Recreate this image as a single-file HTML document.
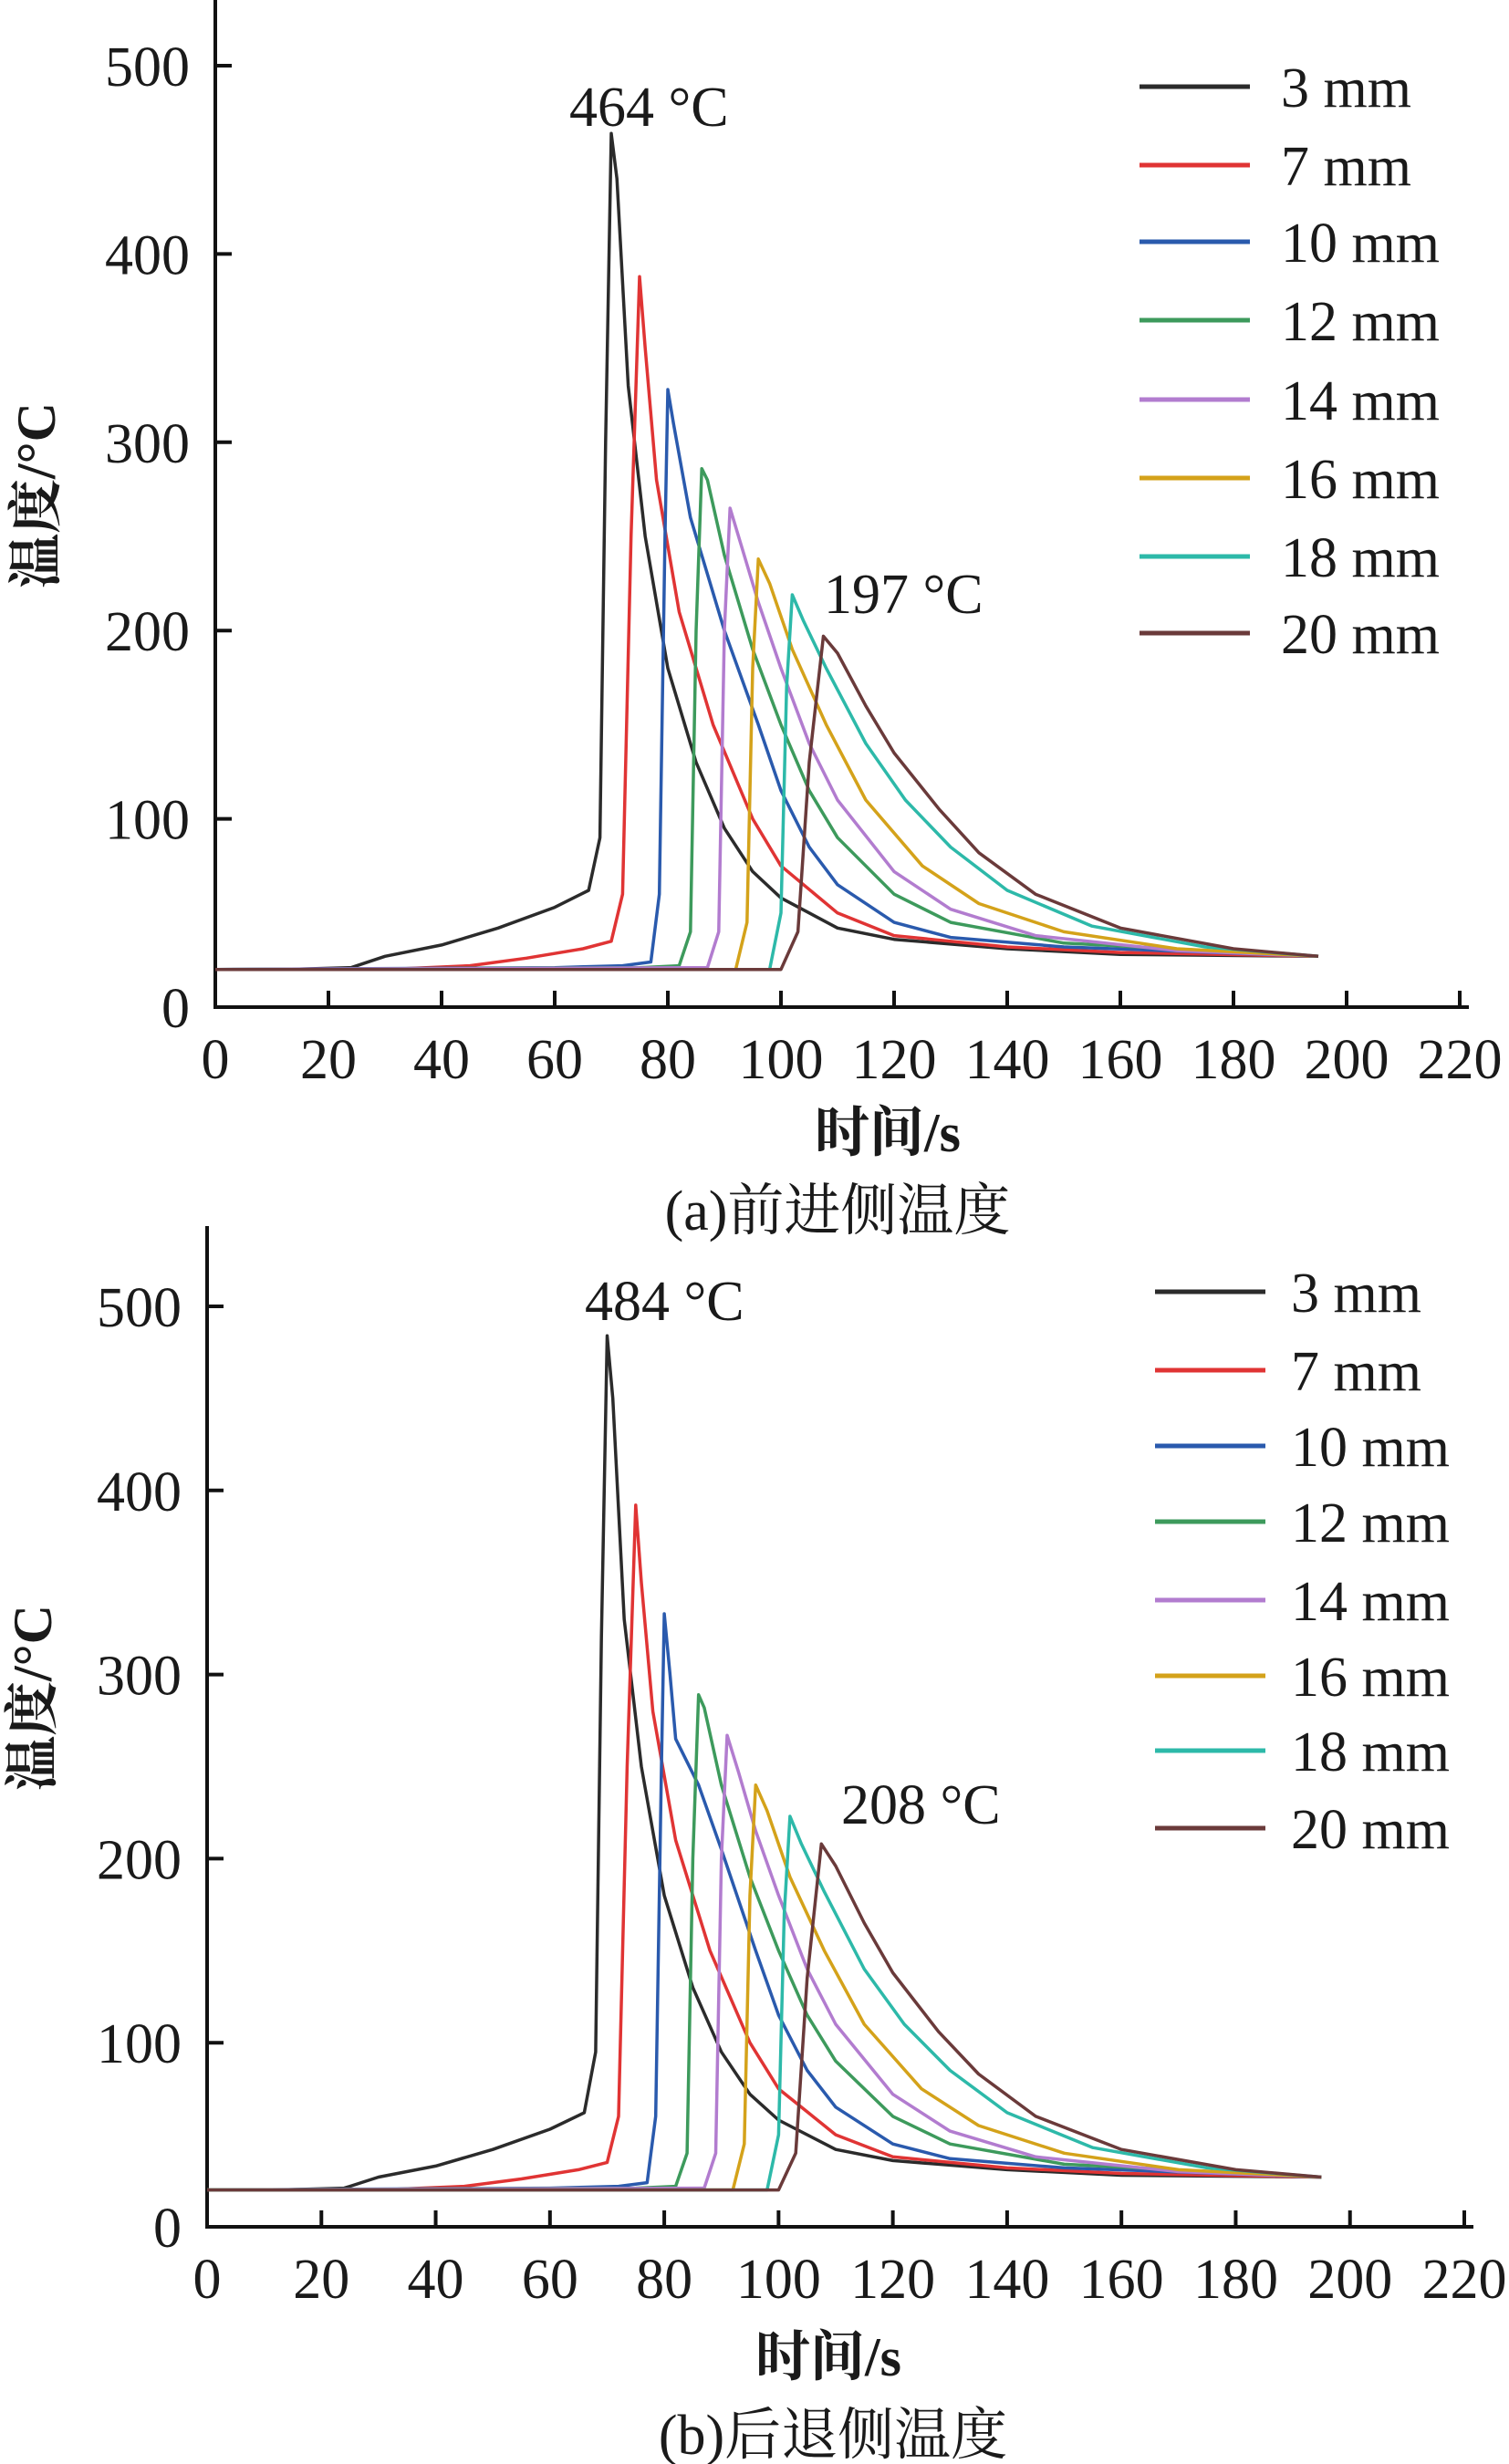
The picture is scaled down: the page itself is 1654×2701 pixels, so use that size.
<!DOCTYPE html>
<html><head><meta charset="utf-8"><style>
html,body{margin:0;padding:0;background:#fff;}
svg{display:block;}
text{font-family:"Liberation Serif","Noto Serif CJK SC",serif;fill:#1a1a1a;}
</style></head>
<body>
<svg id="fig" width="1654" height="2701" viewBox="0 0 1654 2701" xmlns="http://www.w3.org/2000/svg"></svg>
<script>
const xTicks=[0,20,40,60,80,100,120,140,160,180,200,220];
const yTicks=[0,100,200,300,400,500];
const seriesNames=["3 mm","7 mm","10 mm","12 mm","14 mm","16 mm","18 mm","20 mm"];
const seriesColors=["#2b2b2b","#e03434","#2a5aad","#3d9a5c","#b27ccf","#d4a21a","#2db9a9","#6a3a3a"];
const topT3=[[0,20],[12,20],[24,21],[30,27],[40,33],[50,42],[60,53],[66,62],[68,90],[69,300],[70,464],[71,440],[73,330],[76,250],[80,180],[85,130],[90,95],[95,72],[100,58],[110,42],[120,36],[140,31],[160,28],[195,27]];
const topT7=[[0,20],[30,20],[45,22],[55,26],[65,31],[70,35],[72,60],[73.5,250],[75,388],[76,350],[78,280],[82,210],[88,150],[95,100],[100,75],[110,50],[120,38],[140,32],[160,29],[195,27]];
const topT10=[[0,20],[60,21],[72,22],[77,24],[78.5,60],[79.5,250],[80,328],[81,310],[84,260],[90,200],[96,150],[100,115],[105,85],[110,65],[120,45],[130,37],[150,32],[195,27]];
const topT12=[[0,20],[75,21],[82,22],[84,40],[85,200],[86,286],[87,280],[90,240],[95,190],[100,150],[105,115],[110,90],[120,60],[130,45],[150,34],[195,27]];
const topT14=[[0,20],[87,21],[89,40],[90,200],[91,265],[93,245],[96,215],[100,180],[105,140],[110,110],[120,72],[130,52],[145,38],[170,30],[195,27]];
const topT16=[[0,20],[92,20],[94,45],[95,180],[96,238],[98,225],[102,190],[108,150],[115,110],[125,75],[135,55],[150,40],[170,31],[195,27]];
const topT18=[[0,20],[98,20],[100,50],[101,170],[102,219],[104,205],[108,180],[115,140],[122,110],[130,85],[140,62],[155,43],[175,32],[195,27]];
const topT20=[[0,20],[100,20],[103,40],[105,130],[107.5,197],[110,188],[115,160],[120,135],[128,105],[135,82],[145,60],[160,42],[180,31],[195,27]];
const botT3=[[0,20],[12,20],[24,21],[30,27],[40,33],[50,42],[60,53],[66,62],[68,95],[69,320],[70,484],[71,450],[73,330],[76,250],[80,180],[85,130],[90,95],[95,72],[100,58],[110,42],[120,36],[140,31],[160,28],[195,27]];
const botT7=[[0,20],[30,20],[45,22],[55,26],[65,31],[70,35],[72,60],[73.5,250],[75,392],[76,350],[78,280],[82,210],[88,150],[95,100],[100,75],[110,50],[120,38],[140,32],[160,29],[195,27]];
const botT10=[[0,20],[60,21],[72,22],[77,24],[78.5,60],[79.5,250],[80,333],[81,300],[82,265],[86,240],[90,205],[96,150],[100,115],[105,85],[110,65],[120,45],[130,37],[150,32],[195,27]];
const botT12=[[0,20],[75,21],[82,22],[84,40],[85,200],[86,289],[87,282],[90,240],[95,190],[100,150],[105,115],[110,90],[120,60],[130,45],[150,34],[195,27]];
const botT14=[[0,20],[87,21],[89,40],[90,200],[91,267],[93,247],[96,215],[100,180],[105,140],[110,110],[120,72],[130,52],[145,38],[170,30],[195,27]];
const botT16=[[0,20],[92,20],[94,45],[95,180],[96,240],[98,226],[102,190],[108,150],[115,110],[125,75],[135,55],[150,40],[170,31],[195,27]];
const botT18=[[0,20],[98,20],[100,50],[101,170],[102,223],[104,208],[108,182],[115,140],[122,110],[130,85],[140,62],[155,43],[175,32],[195,27]];
const botT20=[[0,20],[100,20],[103,40],[105,135],[107.5,208],[110,196],[115,165],[120,138],[128,106],[135,83],[145,60],[160,42],[180,31],[195,27]];
const topSeries=[topT3,topT7,topT10,topT12,topT14,topT16,topT18,topT20];
const botSeries=[botT3,botT7,botT10,botT12,botT14,botT16,botT18,botT20];

const NS="http://www.w3.org/2000/svg";
const svg=document.getElementById('fig');
function mk(tag,attrs,parent){const e=document.createElementNS(NS,tag);for(const k in attrs)e.setAttribute(k,attrs[k]);(parent||svg).appendChild(e);return e;}
const FS=62;
function drawChart(cfg){
  const g=mk('g',{});
  
  
  const sx=v=>cfg.x0+(cfg.x1-cfg.x0)*v/220;
  const sy=v=>cfg.y0+(cfg.y500-cfg.y0)*v/500;
  const ya=mk('line',{x1:cfg.x0,y1:cfg.axTop,x2:cfg.x0,y2:cfg.y0,stroke:'#111','stroke-width':4},g);
  
  
  const xa=mk('line',{x1:cfg.x0-2,y1:cfg.y0,x2:sx(220)+10,y2:cfg.y0,stroke:'#111','stroke-width':4},g);
  
  
  xTicks.forEach(t=>{
    if(t>0){const tk=mk('line',{x1:sx(t),y1:cfg.y0,x2:sx(t),y2:cfg.y0-18,stroke:'#111','stroke-width':4},g);
    
    }
    const tl=mk('text',{x:sx(t),y:cfg.y0+78,'font-size':FS,'text-anchor':'middle'},g);
    tl.textContent=t;
    
    
  });
  yTicks.forEach(t=>{
    if(t>0){const tk=mk('line',{x1:cfg.x0,y1:sy(t),x2:cfg.x0+18,y2:sy(t),stroke:'#111','stroke-width':4},g);
    
    }
    const tl=mk('text',{x:cfg.x0-28,y:sy(t)+22,'font-size':FS,'text-anchor':'end'},g);
    tl.textContent=t;
    
    
  });
  cfg.series.forEach((pts,i)=>{
    const d=pts.map((p,j)=>(j?'L':'M')+sx(p[0]).toFixed(1)+' '+sy(p[1]).toFixed(1)).join(' ');
    const p=mk('path',{d:d,fill:'none',stroke:seriesColors[i],'stroke-width':3.5,'stroke-linejoin':'round'},g);
    
    
  });
  seriesNames.forEach((n,i)=>{
    const y=cfg.legY[i];
    const l=mk('line',{x1:cfg.legX,y1:y,x2:cfg.legX+121,y2:y,stroke:seriesColors[i],'stroke-width':5},g);
    
    
    const t=mk('text',{x:cfg.legTx,y:y+22,'font-size':FS},g);
    t.textContent=n;
    
    
  });
  cfg.notes.forEach(nt=>{
    const t=mk('text',{x:nt[0],y:nt[1],'font-size':FS},g);
    t.textContent=nt[2];
    
    
  });
  const xt=mk('text',{x:cfg.xtX,y:cfg.xtY,'font-size':60,'text-anchor':'middle','font-weight':'bold'},g);
  xt.textContent='时间/s';
  
  
  const yt=mk('text',{x:0,y:0,'font-size':60,'text-anchor':'middle','font-weight':'bold',transform:'translate('+cfg.ytX+','+cfg.ytY+') rotate(-90)'},g);
  yt.textContent='温度/°C';
  
  
  const cap=mk('text',{x:cfg.capX,y:cfg.capY,'font-size':62,'text-anchor':'middle'},g);
  cap.textContent=cfg.caption;
  
  
}
drawChart({id:'advancing',x0:236,x1:1600,y0:1104,y500:72,axTop:0,series:topSeries,
  legX:1249,legTx:1404,legY:[95,181,265,351,438,524,610,694],
  notes:[[624,138,'464 °C'],[903,672,'197 °C']],
  xtX:973,xtY:1262,ytX:60,ytY:543,capX:918,capY:1348,caption:'(a)前进侧温度'});
drawChart({id:'retreating',x0:227,x1:1605,y0:2441,y500:1432,axTop:1344,series:botSeries,
  legX:1266,legTx:1415,legY:[1416,1502,1585,1668,1754,1837,1919,2004],
  notes:[[641,1447,'484 °C'],[922,1999,'208 °C']],
  xtX:908,xtY:2604,ytX:56,ytY:1861,capX:913,capY:2690,caption:'(b)后退侧温度'});
</script>
</body></html>
